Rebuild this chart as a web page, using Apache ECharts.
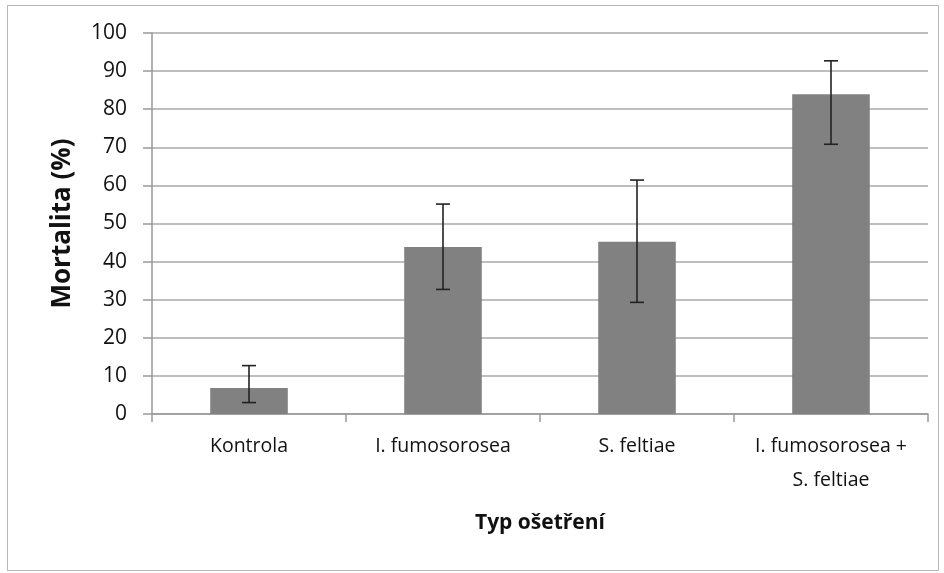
<!DOCTYPE html>
<html><head><meta charset="utf-8">
<script src="https://cdn.jsdelivr.net/npm/echarts@6/dist/echarts.min.js"></script>
<style>html,body{margin:0;padding:0;background:#fff}#c{width:944px;height:573px}
#frame{position:absolute;left:7px;top:5px;width:932px;height:566px;border:1.5px solid #b8b8b8;box-sizing:border-box;pointer-events:none}</style>
</head><body><div id="c"></div><div id="frame"></div>
<script>
const categories = ['Kontrola', 'I. fumosorosea', 'S. feltiae', 'I. fumosorosea +\nS. feltiae'];
const means = [6.8, 43.8, 45.2, 83.9];
const errLow = [3.0, 32.7, 29.3, 70.8];
const errHigh = [12.7, 55.1, 61.4, 92.7];
const yTicks = [0, 10, 20, 30, 40, 50, 60, 70, 80, 90, 100];

const font = 'Open Sans';
const chart = echarts.init(document.getElementById('c'));
chart.setOption({
  animation: false,
  grid: {left: 152, right: 16, top: 33, bottom: 159},
  xAxis: {
    type: 'category', data: categories,
    name: 'Typ ošetření', nameLocation: 'middle', nameGap: 99,
    nameTextStyle: {fontFamily: font, fontSize: 21, fontWeight: 'bold', color: '#111'},
    axisLine: {lineStyle: {color: '#999', width: 1.5}},
    axisTick: {show: true, length: 8, lineStyle: {color: '#999', width: 1.5}},
    axisLabel: {fontFamily: font, fontSize: 19.5, color: '#111', margin: 15, lineHeight: 34, interval: 0}
  },
  yAxis: {
    type: 'value', min: 0, max: 100, interval: 10,
    name: 'Mortalita (%)', nameLocation: 'middle', nameGap: 76,
    nameTextStyle: {fontFamily: font, fontSize: 26, fontWeight: 'bold', color: '#111'},
    axisLine: {show: true, lineStyle: {color: '#999', width: 1.5}},
    axisTick: {show: true, length: 9, lineStyle: {color: '#999', width: 1.5}},
    axisLabel: {fontFamily: font, fontSize: 21, color: '#111', margin: 25,
      formatter: v => yTicks.includes(v) ? String(v) : ''},
    splitLine: {lineStyle: {color: '#a8a8a8', width: 1.5}}
  },
  series: [
    {type: 'bar', data: means, barWidth: '40%', itemStyle: {color: '#818181'}},
    {type: 'custom', z: 10,
      data: categories.map((c, i) => [i, errLow[i], errHigh[i]]),
      renderItem: function (params, api) {
        const x = api.value(0);
        const lo = api.coord([x, api.value(1)]);
        const hi = api.coord([x, api.value(2)]);
        const hw = 7;
        const st = {stroke: '#222', lineWidth: 1.6};
        return {type: 'group', children: [
          {type: 'line', shape: {x1: lo[0], y1: lo[1], x2: hi[0], y2: hi[1]}, style: st},
          {type: 'line', shape: {x1: hi[0]-hw, y1: hi[1], x2: hi[0]+hw, y2: hi[1]}, style: st},
          {type: 'line', shape: {x1: lo[0]-hw, y1: lo[1], x2: lo[0]+hw, y2: lo[1]}, style: st}
        ]};
      }
    }
  ]
});
</script></body></html>
